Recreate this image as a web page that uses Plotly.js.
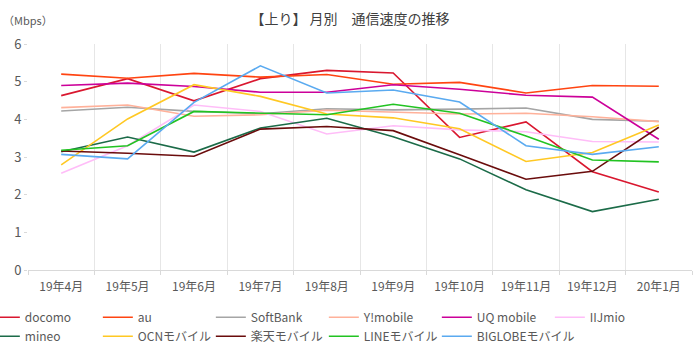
<!DOCTYPE html>
<html>
<head>
<meta charset="utf-8">
<script src="https://cdn.plot.ly/plotly-3.0.1.min.js"></script>
<style>html,body{margin:0;padding:0;background:#fff;}#chart{width:700px;height:350px;}</style>
</head>
<body>
<div id="chart"></div>
<script>
const months = ["19年4月","19年5月","19年6月","19年7月","19年8月","19年9月","19年10月","19年11月","19年12月","20年1月"];
const docomo   = [4.63, 5.08, 4.49, 5.08, 5.30, 5.23, 3.52, 3.93, 2.61, 2.07];
const au       = [5.20, 5.09, 5.22, 5.12, 5.19, 4.93, 4.98, 4.70, 4.90, 4.88];
const softbank = [4.22, 4.32, 4.21, 4.15, 4.28, 4.25, 4.27, 4.30, 4.00, 3.95];
const ymobile  = [4.31, 4.38, 4.08, 4.12, 4.24, 4.19, 4.14, 4.16, 4.07, 3.94];
const uqmobile = [4.90, 4.96, 4.87, 4.72, 4.72, 4.92, 4.80, 4.64, 4.59, 3.47];
const iijmio   = [2.57, 3.30, 4.38, 4.21, 3.61, 3.83, 3.72, 3.67, 3.41, 3.40];
const mineo    = [3.14, 3.53, 3.13, 3.77, 4.03, 3.54, 2.95, 2.13, 1.55, 1.88];
const ocn      = [2.79, 4.01, 4.92, 4.61, 4.14, 4.04, 3.75, 2.88, 3.12, 3.85];
const rakuten  = [3.16, 3.10, 3.02, 3.74, 3.81, 3.70, 3.06, 2.41, 2.62, 3.79];
const line     = [3.18, 3.30, 4.21, 4.17, 4.12, 4.40, 4.16, 3.56, 2.92, 2.87];
const biglobe  = [3.07, 2.95, 4.45, 5.42, 4.70, 4.78, 4.46, 3.30, 3.07, 3.27];

const seriesNames = ["docomo","au","SoftBank","Y!mobile","UQ mobile","IIJmio","mineo","OCNモバイル","楽天モバイル","LINEモバイル","BIGLOBEモバイル"];
const seriesData = [docomo, au, softbank, ymobile, uqmobile, iijmio, mineo, ocn, rakuten, line, biglobe];
const colors = ["#d9172f","#ff4411","#a5a5a5","#ffb19a","#cc0099","#ffbdf8","#1b6b48","#ffc823","#6a0c0c","#22c322","#5aaaf0"];

const font = "'Noto Sans CJK JP', 'Noto Sans', sans-serif";
const traces = seriesNames.map((n, i) => ({
  type: "scatter", mode: "lines", name: n, x: months, y: seriesData[i],
  line: {color: colors[i], width: 1.6}
}));

const layout = {
  width: 700, height: 350,
  margin: {l: 28, r: 8, t: 44, b: 80, autoexpand: false},
  paper_bgcolor: "#fff", plot_bgcolor: "#fff",
  font: {family: font, color: "#595959", size: 12},
  title: {text: "【上り】 月別　通信速度の推移", x: 0.5, xanchor: "center", y: 0.945, yanchor: "middle",
          font: {family: font, size: 14, color: "#404040"}},
  xaxis: {type: "category", tickson: "boundaries", showgrid: true, gridcolor: "#e6e6e6", gridwidth: 1,
          showline: true, linecolor: "#d9d9d9", ticks: "outside", ticklen: 4, tickcolor: "#d9d9d9",
          ticklabelstandoff: 6,
          tickfont: {size: 12, color: "#595959"}, range: [-0.5, 9.5], zeroline: false, fixedrange: true},
  yaxis: {range: [0, 6], dtick: 1, showgrid: false, zeroline: false, showline: false,
          ticks: "outside", ticklen: 3, tickcolor: "#d9d9d9",
          tickfont: {size: 13, color: "#595959"}, fixedrange: true},
  showlegend: true,
  legend: {orientation: "h", x: -0.065, xanchor: "left", y: -0.145, yanchor: "top",
           entrywidth: 68, entrywidthmode: "pixels", itemwidth: 30,
           font: {size: 12, color: "#595959"}, tracegroupgap: 0, traceorder: "normal"},
  annotations: [{text: "（Mbps）", xref: "paper", yref: "paper", x: -0.04, y: 1.105, xanchor: "left", yanchor: "middle",
                 showarrow: false, font: {size: 11, color: "#595959"}}]
};
Plotly.newPlot("chart", traces, layout, {displayModeBar: false, staticPlot: true});
</script>
</body>
</html>
